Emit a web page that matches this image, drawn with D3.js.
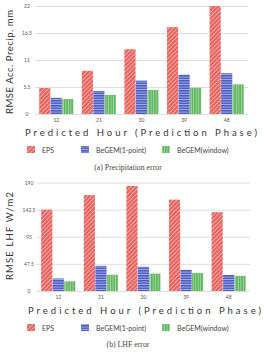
<!DOCTYPE html>
<html>
<head>
<meta charset="utf-8">
<script src="https://cdn.jsdelivr.net/npm/d3@7"></script>
<style>
  body { margin: 0; background: #fff; }
  svg { display: block; }
</style>
</head>
<body>
<script>
// data
const hours = ["12", "21", "30", "39", "48"];
const seriesNames = ["EPS", "BeGEM(1-point)", "BeGEM(window)"];
const precipEPS = [5.3, 8.8, 13.2, 17.7, 22.0];
const precipPoint = [3.3, 4.7, 6.8, 8.0, 8.3];
const precipWindow = [3.05, 3.9, 4.9, 5.35, 6.05];
const precipTicks = [0, 5.5, 11, 16.5, 22];
const lhfEPS = [142.5, 168, 184, 160, 138];
const lhfPoint = [22, 44, 42.5, 37, 28];
const lhfWindow = [17, 28.5, 30.5, 31.5, 26.5];
const lhfTicks = [0, 47.5, 95, 142.5, 190];

const w = 264, h = 353;
const svg = d3.select("body").append("svg")
    .attr("width", w)
    .attr("height", h);

// hatch patterns
const defs = svg.append("defs");
const eps = defs.append("pattern").attr("id", "p0")
    .attr("patternUnits", "userSpaceOnUse").attr("width", 3).attr("height", 3)
    .attr("patternTransform", "rotate(45)");
eps.append("rect").attr("width", 3).attr("height", 3).attr("fill", "#e6625f");
eps.append("rect").attr("width", 1).attr("height", 3).attr("fill", "#f4aaa6");

const pt = defs.append("pattern").attr("id", "p1")
    .attr("patternUnits", "userSpaceOnUse").attr("width", 3).attr("height", 2.5);
pt.append("rect").attr("width", 3).attr("height", 2.5).attr("fill", "#4d5cc4");
pt.append("rect").attr("y", 1.6).attr("width", 3).attr("height", 0.9).attr("fill", "#a8b0e4");

const win = defs.append("pattern").attr("id", "p2")
    .attr("patternUnits", "userSpaceOnUse").attr("width", 2.5).attr("height", 3);
win.append("rect").attr("width", 2.5).attr("height", 3).attr("fill", "#5db55d");
win.append("rect").attr("x", 1.6).attr("width", 0.9).attr("height", 3).attr("fill", "#a9d9a6");

const fills = ["url(#p0)", "url(#p1)", "url(#p2)"];
const titleFont = "Lato, 'Open Sans', sans-serif";

function drawChart(opts) {
    const g = svg.append("g");
    const x = d3.scaleBand().domain(hours)
        .range([opts.left, opts.right])
        .paddingInner(0.18).paddingOuter(0.09);
    const xs = d3.scaleBand().domain(seriesNames)
        .range([0, x.bandwidth()]).padding(0.03);
    const y = d3.scaleLinear().domain([0, opts.max])
        .range([opts.bottom, opts.top]);

    // gridlines + y tick labels
    const yAxis = d3.axisLeft(y).tickValues(opts.ticks)
        .tickSize(-(opts.right - opts.left)).tickPadding(8)
        .tickFormat(d => String(d));
    const ya = g.append("g")
        .attr("transform", "translate(" + opts.left + ",0)")
        .call(yAxis);
    ya.select(".domain").remove();
    ya.selectAll("line").attr("stroke", "#d6d6d6").attr("stroke-width", 0.8);
    ya.selectAll("text")
        .attr("font-family", titleFont).attr("font-size", 5)
        .attr("fill", "#555").attr("text-anchor", "middle")
        .attr("x", -8);

    // bars
    const rows = hours.map((hr, i) => ({
        hour: hr,
        vals: opts.series.map((s, j) => ({ name: seriesNames[j], v: s[i], k: j }))
    }));
    g.selectAll(".grp").data(rows).enter().append("g")
        .attr("transform", d => "translate(" + x(d.hour) + ",0)")
        .selectAll("rect").data(d => d.vals).enter().append("rect")
        .attr("x", d => xs(d.name))
        .attr("width", xs.bandwidth())
        .attr("y", d => y(d.v))
        .attr("height", d => y(0) - y(d.v))
        .attr("fill", d => fills[d.k]);

    // x tick labels
    const xAxis = d3.axisBottom(x).tickSize(0).tickPadding(4);
    const xa = g.append("g")
        .attr("transform", "translate(0," + opts.bottom + ")")
        .call(xAxis);
    xa.select(".domain").remove();
    xa.selectAll("text")
        .attr("font-family", titleFont).attr("font-size", 5).attr("fill", "#555");

    // y title, stretched with spacing like the original
    g.append("text")
        .attr("transform", "translate(" + opts.ytx + "," + opts.yty + ") rotate(-90)")
        .attr("text-anchor", "middle")
        .attr("font-family", titleFont).attr("font-size", 9.5)
        .attr("textLength", opts.ylen).attr("lengthAdjust", "spacing")
        .attr("fill", "#333")
        .text(opts.ytitle);

    // x title
    g.append("text")
        .attr("x", opts.xtx).attr("y", opts.xty)
        .attr("font-family", titleFont).attr("font-size", 9.5)
        .attr("textLength", opts.xlen).attr("lengthAdjust", "spacing")
        .attr("fill", "#333")
        .text("Predicted Hour (Prediction Phase)");

    // legend
    const legX = [27, 81, 162];
    const lg = g.append("g");
    seriesNames.forEach((n, i) => {
        lg.append("rect")
            .attr("x", legX[i]).attr("y", opts.ly - 4)
            .attr("width", 8).attr("height", 7)
            .attr("fill", fills[i]);
        lg.append("text")
            .attr("x", legX[i] + 15).attr("y", opts.ly + 2.5)
            .attr("font-family", titleFont).attr("font-size", 7)
            .attr("fill", "#444")
            .text(n);
    });

    // caption
    g.append("text")
        .attr("x", 128).attr("y", opts.cy)
        .attr("text-anchor", "middle")
        .attr("font-family", "'Liberation Serif', serif").attr("font-size", 7.8)
        .attr("fill", "#444")
        .text(opts.caption);
}

drawChart({
    series: [precipEPS, precipPoint, precipWindow],
    ticks: precipTicks, max: 22,
    left: 35, right: 248, top: 6, bottom: 114,
    ytitle: "RMSE Acc. Precip. mm", ytx: 13, yty: 62, ylen: 104,
    xtx: 25, xty: 136, xlen: 232,
    ly: 150, caption: "(a) Precipitation error", cy: 170
});

drawChart({
    series: [lhfEPS, lhfPoint, lhfWindow],
    ticks: lhfTicks, max: 190,
    left: 37, right: 250, top: 182.5, bottom: 291,
    ytitle: "RMSE LHF W/m2", ytx: 13, yty: 236, ylen: 88,
    xtx: 28, xty: 314, xlen: 233,
    ly: 328, caption: "(b) LHF error", cy: 347
});
</script>
</body>
</html>
